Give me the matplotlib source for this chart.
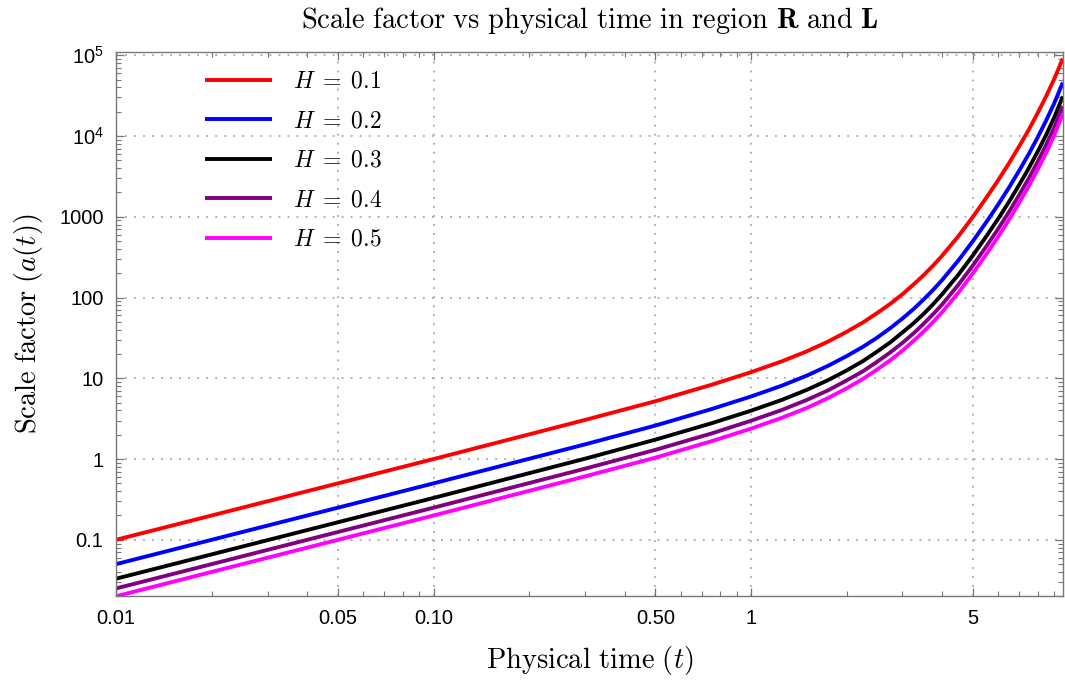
import numpy as np
import matplotlib
matplotlib.use('Agg')
import matplotlib.pyplot as plt
from matplotlib.ticker import FixedLocator, FixedFormatter, LogLocator, NullFormatter

plt.rcParams['font.family'] = ['Liberation Sans', 'DejaVu Sans']
plt.rcParams['mathtext.fontset'] = 'cm'

# values
t = [0.01, 0.1, 0.3, 0.5, 0.75, 1, 1.25, 1.5, 1.75, 2, 2.25, 2.5, 2.75, 3, 3.25, 3.5, 3.75, 4, 4.5, 5,
     5.5, 6, 6.5, 7, 7.5, 8, 8.5, 9, 9.6]
a_h01 = [0.1, 1.0, 3.05, 5.2, 8.3, 11.9, 16.2, 21.6, 28.5, 37.6, 49, 64.5, 84, 110, 145, 190, 250, 330, 575, 1000,
         1700, 2820, 4620, 7500, 12000, 19300, 31000, 50000, 91000]
a_h02 = [0.05, 0.5, 1.52, 2.6, 4.15, 5.95, 8.1, 10.8, 14.3, 18.8, 24.5, 32, 42, 55, 72, 95, 125, 165, 288, 500,
         850, 1410, 2310, 3750, 6000, 9650, 15500, 25000, 46000]
a_h03 = [0.033, 0.33, 1.01, 1.74, 2.77, 3.97, 5.4, 7.2, 9.5, 12.5, 16.3, 21.5, 28, 37, 48, 63, 83, 110, 192, 333,
         567, 940, 1540, 2500, 4000, 6430, 10300, 16700, 31000]
a_h04 = [0.025, 0.25, 0.76, 1.3, 2.07, 2.98, 4.05, 5.4, 7.1, 9.4, 12.2, 16.1, 21, 27.5, 36, 47.5, 62.5, 82, 144, 250,
         425, 705, 1155, 1875, 3000, 4830, 7750, 12500, 23500]
a_h05 = [0.02, 0.2, 0.61, 1.04, 1.66, 2.38, 3.24, 4.3, 5.7, 7.5, 9.8, 12.9, 16.8, 22, 29, 38, 50, 66, 115, 200,
         340, 564, 924, 1500, 2400, 3860, 6200, 10000, 19000]

series = [a_h01, a_h02, a_h03, a_h04, a_h05]
labels = [r'$H\;=\;0.1$', r'$H\;=\;0.2$', r'$H\;=\;0.3$', r'$H\;=\;0.4$', r'$H\;=\;0.5$']
colours = ['#ff0000', '#0000ff', '#000000', '#800080', '#ff00ff']

xticks = [0.01, 0.05, 0.1, 0.5, 1, 5]
xticklabels = ['0.01', '0.05', '0.10', '0.50', '1', '5']
yticks = [0.1, 1, 10, 100, 1000, 1e4, 1e5]
yticklabels = ['0.1', '1', '10', '100', '1000', r'$\mathregular{10^4}$', r'$\mathregular{10^5}$']

fig = plt.figure(figsize=(10.65, 6.83), dpi=100)
ax = fig.add_axes([0.109, 0.127, 0.889, 0.797])

for ys, lab, c in zip(series, labels, colours):
    ax.plot(t, ys, color=c, lw=2.8, label=lab, solid_capstyle='butt')

ax.set_xscale('log')
ax.set_yscale('log')
ax.set_xlim(0.01, 9.6)
ax.set_ylim(0.02, 1.1e5)

ax.xaxis.set_major_locator(FixedLocator(xticks))
ax.xaxis.set_major_formatter(FixedFormatter(xticklabels))
ax.xaxis.set_minor_locator(LogLocator(base=10, subs=np.arange(2, 10), numticks=20))
ax.xaxis.set_minor_formatter(NullFormatter())
ax.yaxis.set_major_locator(FixedLocator(yticks))
ax.yaxis.set_major_formatter(FixedFormatter(yticklabels))
ax.yaxis.set_minor_locator(LogLocator(base=10, subs=np.arange(2, 10), numticks=20))
ax.yaxis.set_minor_formatter(NullFormatter())

ax.grid(True, which='major', color='#a8a8a8', ls=(0, (1, 4)), lw=1.3)
ax.tick_params(which='both', direction='in', top=True, right=True, color='#777777')
ax.tick_params(which='major', length=6, width=0.9, labelsize=14.5, pad=9)
ax.tick_params(which='minor', length=3.5, width=0.8)
for s in ax.spines.values():
    s.set_color('#777777')
    s.set_linewidth(1.0)

ax.set_title(r'$\mathrm{Scale\ factor\ vs\ physical\ time\ in\ region\ }\mathbf{R}\mathrm{\ and\ }\mathbf{L}$',
             fontsize=20.5, pad=17)
ax.set_xlabel(r'$\mathrm{Physical\ time\ }(t)$', fontsize=20.5, labelpad=12)
ax.set_ylabel(r'$\mathrm{Scale\ factor\ }(a(t))$', fontsize=20.5, labelpad=10)

ax.legend(loc='upper left', bbox_to_anchor=(0.071, 1.004), frameon=False, fontsize=17,
          handlelength=2.85, handletextpad=0.9, labelspacing=0.74)

fig.savefig('out.png', dpi=100)
